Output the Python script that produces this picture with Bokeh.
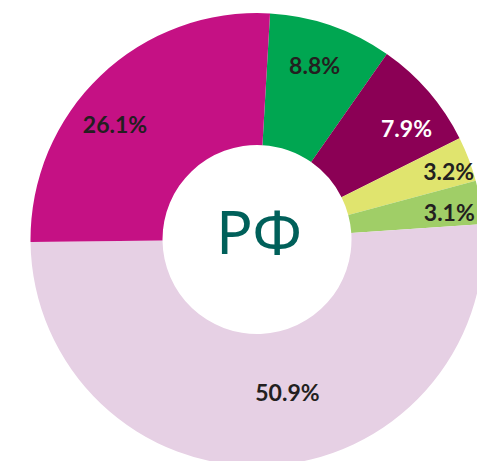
import numpy as np
from bokeh.plotting import figure
from bokeh.models import Range1d, ColumnDataSource
from bokeh.core.properties import value
from bokeh.embed import file_html
from bokeh.resources import INLINE

# data
labels = ["8.8%", "7.9%", "3.2%", "3.1%", "50.9%", "26.1%"]
shares = [8.8, 7.9, 3.2, 3.1, 50.9, 26.1]
colors = ["#00A651", "#8B0055", "#E0E46E", "#A0CE67", "#E6D0E4", "#C51184"]
label_colors = ["#231F20", "#FFFFFF", "#231F20", "#231F20", "#231F20", "#231F20"]
center_label = "РФ"

# layout (picture pixel coordinates, y downward negated)
W, H = 477, 461
cx, cy = 256.5, -239.0
r_in, r_out = 94.5, 226.5
start_offset = 3.3  # degrees clockwise from 12 o'clock

vals = np.array(shares)
cum = np.concatenate([[0], np.cumsum(vals)]) / vals.sum() * 360.0
start = np.radians(90 - start_offset - cum[:-1])
end = np.radians(90 - start_offset - cum[1:])
mid_deg = start_offset + (cum[:-1] + cum[1:]) / 2  # clockwise from top

label_r = np.array([182, 185, 203, 194, 157, 182])
label_nudge = np.array([-0.7, 4.7, 1.6, 1.9, -8.9, -7.6])
ang = np.radians(mid_deg + label_nudge)
lx = cx + label_r * np.sin(ang)
ly = cy + label_r * np.cos(ang) + 2

src = ColumnDataSource(dict(start=start, end=end, color=colors,
                            lx=lx, ly=ly, text=labels, tcolor=label_colors))

p = figure(width=W, height=H, output_backend="svg", toolbar_location=None,
           x_range=Range1d(0, W), y_range=Range1d(-H, 0),
           min_border=0)
p.axis.visible = False
p.grid.visible = False
p.outline_line_color = None
p.background_fill_color = "white"

p.annular_wedge(x=cx, y=cy, inner_radius=r_in, outer_radius=r_out,
                start_angle="start", end_angle="end", direction="clock",
                fill_color="color", line_color=None, source=src)

p.text(x="lx", y="ly", text="text", text_color="tcolor", source=src,
       text_font=value("Lato"), text_font_style="bold", text_font_size="23px",
       text_align="center", text_baseline="middle")

p.text(x=[cx + 2], y=[cy + 9], text=[center_label], text_color="#00605A",
       text_font=value("Noto Sans"), text_font_size="61px",
       text_align="center", text_baseline="middle")

open("out.html", "w").write(file_html(p, INLINE))
